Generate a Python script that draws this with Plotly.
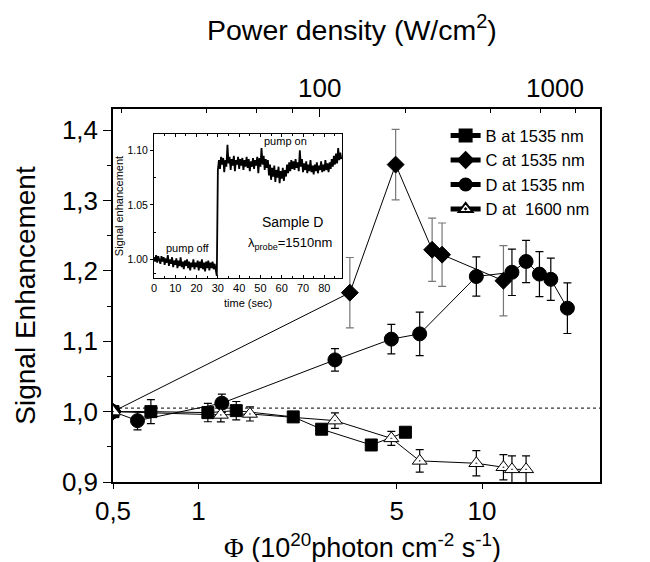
import math
import plotly.graph_objects as go

# ---------------- data ----------------
# B at 1535 nm (squares)
b_phi = [0.5, 0.68, 1.08, 1.36, 2.16, 2.72, 4.07, 5.37]
b_sig = [1.000, 1.000, 0.9986, 1.0014, 0.9925, 0.975, 0.9526, 0.9707]
b_err = [0.0, 0.017, 0.013, 0.013, 0.0, 0.0, 0.0, 0.0]

# C at 1535 nm (diamonds)
c_phi = [0.5, 3.42, 4.96, 6.67, 7.23, 11.9]
c_sig = [1.000, 1.169, 1.351, 1.230, 1.223, 1.186]
c_err = [0.0, 0.05, 0.05, 0.045, 0.045, 0.05]

# D at 1535 nm (circles)
d_phi = [0.5, 0.61, 1.21, 3.03, 4.79, 6.03, 9.55, 12.75, 14.3, 15.94, 17.48, 20.0]
d_sig = [1.000, 0.9872, 1.012, 1.0735, 1.103, 1.1105, 1.192, 1.198, 1.2134, 1.1954, 1.188, 1.147]
d_err = [0.0, 0.013, 0.013, 0.016, 0.021, 0.031, 0.028, 0.033, 0.03, 0.032, 0.03, 0.036]

# D at 1600 nm (open triangles)
e_phi = [0.5, 1.2, 1.52, 3.03, 4.79, 6.03, 9.55, 11.9, 12.75, 14.3]
e_sig = [1.000, 0.9953, 0.9967, 0.9872, 0.962, 0.930, 0.9266, 0.921, 0.918, 0.918]
e_err = [0.0, 0.01, 0.01, 0.011, 0.01, 0.016, 0.018, 0.018, 0.019, 0.019]

# bottom axis ticks
phi_ticks = [0.5, 1, 5, 10]
phi_ticktext = ["0,5", "1", "5", "10"]
sig_ticks = [0.9, 1.0, 1.1, 1.2, 1.3, 1.4]
sig_ticktext = ["0,9", "1,0", "1,1", "1,2", "1,3", "1,4"]
sig_minor = [0.95, 1.05, 1.15, 1.25, 1.35]

# top axis (power density, W/cm^2)
POWER_PER_PHI = 37.33
power_major = [100]
power_major_text = ["100"]
power_minor = [20, 40, 60, 80, 200, 400, 600, 800]
power_label_1000_pos = 676  # where the "1000" label sits in the reference

REFERENCE_LEVEL = 1.005

# inset: signal enhancement vs time, sample D, probe 1510 nm
SAMPLE_STEP = 0.5  # seconds
inset_signal = [
    1.002, 0.998, 1.004, 0.997, 1.003, 0.999, 0.996, 1.003, 0.998, 1.002,
    0.995, 1.001, 0.997, 1.004, 0.994, 1.000, 0.996, 1.002, 0.993, 0.999,
    0.995, 1.001, 0.992, 0.999, 0.994, 1.002, 0.993, 0.998, 0.991, 0.999,
    0.994, 1.000, 0.992, 0.998, 0.990, 0.997, 0.993, 1.000, 0.991, 0.997,
    0.993, 0.999, 0.990, 0.998, 0.992, 1.000, 0.991, 0.997, 0.989, 0.998,
    0.992, 0.999, 0.990, 0.997, 0.992, 0.998, 0.991, 0.996, 0.990, 0.985,
    1.082,
    1.091, 1.083, 1.094, 1.087, 1.093, 1.080, 1.091, 1.085, 1.105, 1.088,
    1.094, 1.082, 1.092, 1.086, 1.095, 1.081, 1.091, 1.087, 1.094, 1.083,
    1.092, 1.086, 1.093, 1.082, 1.091, 1.085, 1.094, 1.084, 1.092, 1.081,
    1.090, 1.085, 1.093, 1.083, 1.091, 1.086, 1.094, 1.079, 1.093, 1.085,
    1.102, 1.087, 1.095, 1.082, 1.092, 1.084, 1.091, 1.077, 1.087, 1.073,
    1.084, 1.076, 1.086, 1.071, 1.082, 1.075, 1.085, 1.070, 1.081, 1.074,
    1.084, 1.072, 1.082, 1.076, 1.087, 1.079, 1.089, 1.081, 1.091, 1.083,
    1.090, 1.082, 1.092, 1.084, 1.089, 1.081, 1.100, 1.085, 1.092, 1.080,
    1.088, 1.082, 1.090, 1.079, 1.087, 1.081, 1.091, 1.080, 1.086, 1.078,
    1.087, 1.081, 1.089, 1.079, 1.086, 1.082, 1.090, 1.080, 1.087, 1.081,
    1.091, 1.082, 1.088, 1.080, 1.089, 1.083, 1.092, 1.085, 1.095, 1.087,
    1.097, 1.088, 1.102, 1.091, 1.098, 1.092,
]
inset_time = [i * SAMPLE_STEP for i in range(len(inset_signal))]

# ---------------- figure ----------------
FONT = "Liberation Sans"
X_MIN, X_MAX = math.log10(0.5), 1.416

fig = go.Figure()

def add_series(x, y, err, name, symbol, size, fill, errcolor):
    fig.add_trace(go.Scatter(
        x=x, y=y, name=name, mode="lines+markers",
        line=dict(color="black", width=1),
        marker=dict(symbol=symbol, size=size, color=fill,
                    line=dict(color="black", width=1)),
        error_y=dict(type="data", array=err, visible=True, color=errcolor,
                     thickness=1.2, width=4),
        xaxis="x", yaxis="y",
    ))

add_series(b_phi, b_sig, b_err, "B at 1535 nm", "square", 12, "black", "black")
add_series(c_phi, c_sig, c_err, "C at 1535 nm", "diamond", 13, "black", "#777777")
add_series(d_phi, d_sig, d_err, "D at 1535 nm", "circle", 14, "black", "black")
add_series(e_phi, e_sig, e_err, "D at\u00a0 1600 nm", "triangle-up-dot", 13, "white", "black")

# inset trace
fig.add_trace(go.Scatter(
    x=inset_time, y=inset_signal, mode="lines", showlegend=False,
    line=dict(color="black", width=1.8), xaxis="x3", yaxis="y3",
))

fig.update_layout(
    width=642, height=554,
    margin=dict(l=105, r=50, t=101, b=80, autoexpand=False),
    paper_bgcolor="white", plot_bgcolor="white",
    font=dict(family=FONT, color="black"),
    showlegend=True,
    legend=dict(x=0.683, y=0.975, xanchor="left", yanchor="top",
                bgcolor="rgba(0,0,0,0)", font=dict(size=16.5, family=FONT),
                itemwidth=30, tracegroupgap=0, itemsizing="constant"),
    xaxis=dict(
        type="log", range=[X_MIN, X_MAX],
        tickvals=phi_ticks, ticktext=phi_ticktext,
        ticks="outside", ticklen=5, tickwidth=1.2, tickcolor="black",
        showline=True, linecolor="black", linewidth=1.5,
        showgrid=False, zeroline=False,
        tickfont=dict(size=26),
    ),
    xaxis2=dict(
        type="log", overlaying="x", side="top", anchor="y",
        range=[X_MIN + math.log10(POWER_PER_PHI), X_MAX + math.log10(POWER_PER_PHI)],
        tickvals=power_major, ticktext=power_major_text,
        ticks="inside", ticklen=8, tickwidth=1.2, tickcolor="black",
        minor=dict(tickvals=power_minor, ticks="inside", ticklen=4,
                   tickcolor="black", tickwidth=1.2),
        ticklabelstandoff=0,
        showline=True, linecolor="black", linewidth=1.5,
        showgrid=False, zeroline=False,
        tickfont=dict(size=26),
    ),
    yaxis=dict(
        range=[0.9, 1.43],
        tickvals=sig_ticks, ticktext=sig_ticktext,
        ticks="outside", ticklen=8, tickwidth=1.2, tickcolor="black",
        minor=dict(tickvals=sig_minor, ticks="outside", ticklen=4,
                   tickcolor="black", tickwidth=1.2),
        showline=True, linecolor="black", linewidth=1.5, mirror=True,
        showgrid=False, zeroline=False,
        tickfont=dict(size=26),
        title=dict(text="Signal Enhancement", font=dict(size=28), standoff=18),
    ),
    xaxis3=dict(
        domain=[0.0842, 0.4702], anchor="y3", range=[0, 88.3],
        dtick=10, ticks="inside", ticklen=3, tickcolor="black",
        minor=dict(dtick=5, ticks="inside", ticklen=2, tickcolor="black"),
        showline=True, linecolor="black", linewidth=1, mirror="ticks",
        showgrid=False, zeroline=False,
        tickfont=dict(size=11),
    ),
    yaxis3=dict(
        domain=[0.547, 0.933], anchor="x3", range=[0.983, 1.115],
        tickvals=[1.00, 1.05, 1.10], ticktext=["1.00", "1.05", "1.10"],
        ticks="outside", ticklen=3, tickcolor="black",
        minor=dict(tickvals=[0.9875, 1.025, 1.075], ticks="inside", ticklen=2,
                   tickcolor="black"),
        showline=True, linecolor="black", linewidth=1, mirror=True,
        showgrid=False, zeroline=False,
        tickfont=dict(size=10.5),
        title=dict(text="Signal enhancement", font=dict(size=11), standoff=1),
    ),
    shapes=[dict(type="line", xref="paper", x0=0, x1=1, yref="y",
                 y0=REFERENCE_LEVEL, y1=REFERENCE_LEVEL,
                 line=dict(color="black", width=1, dash="dot"), layer="below")],
    annotations=[
        dict(text="Power density (W/cm<sup>2</sup>)", xref="paper", yref="paper",
             x=0.49, y=1.217, showarrow=False, font=dict(size=28.5),
             xanchor="center", yanchor="middle"),
        dict(text="<span style='font-family:Liberation Serif'>\u03a6</span>"
                  " (10<sup>20</sup>photon cm<sup>-2</sup> s<sup>-1</sup>)",
             xref="paper", yref="paper", x=0.513, y=-0.172,
             showarrow=False, font=dict(size=27),
             xanchor="center", yanchor="middle"),
        dict(text="1000", xref="x2", yref="paper",
             x=math.log10(power_label_1000_pos), y=1.0, yshift=21,
             showarrow=False, font=dict(size=26),
             xanchor="center", yanchor="middle"),
        dict(text="time (sec)", xref="x3", yref="paper", x=44, y=0.48,
             showarrow=False, font=dict(size=11), yanchor="middle"),
        dict(text="pump on", xref="x3", yref="y3", x=62, y=1.101,
             showarrow=False, font=dict(size=11), yanchor="bottom"),
        dict(text="pump off", xref="x3", yref="y3", x=16, y=1.003,
             showarrow=False, font=dict(size=11), yanchor="bottom"),
        dict(text="Sample D", xref="x3", yref="y3", x=65, y=1.034,
             showarrow=False, font=dict(size=14)),
        dict(text="\u03bb<sub>probe</sub>=1510nm", xref="x3", yref="y3", x=64, y=1.015,
             showarrow=False, font=dict(size=13)),
    ],
)

fig.write_html("out.html")
